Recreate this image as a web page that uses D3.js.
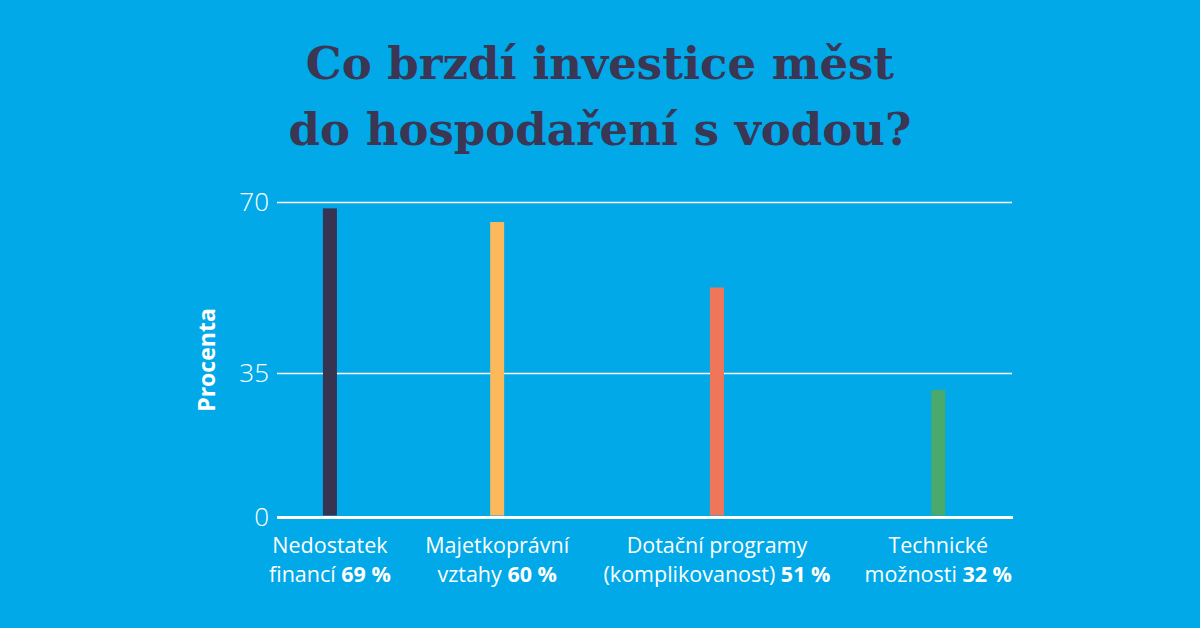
<!DOCTYPE html>
<html lang="cs">
<head>
<meta charset="utf-8">
<title>Co brzdí investice měst</title>
<script src="https://cdn.jsdelivr.net/npm/d3@7"></script>
<style>
  html, body { margin: 0; padding: 0; background: #01a9e8; }
  svg { display: block; }
  .title { font-family: "DejaVu Serif", serif; font-weight: bold; fill: #3a3654; }
  .tick-label { font-family: "Open Sans", sans-serif; font-weight: 300; fill: #fff; }
  .cat { font-family: "Open Sans", sans-serif; fill: #fff; }
</style>
</head>
<body>
<script>
// data
var titleLines = ["Co brzdí investice měst", "do hospodaření s vodou?"];
var categories = ["Nedostatek financí", "Majetkoprávní vztahy", "Dotační programy (komplikovanost)", "Technické možnosti"];
var labelLine1 = ["Nedostatek", "Majetkoprávní", "Dotační programy", "Technické"];
var labelLine2 = ["financí", "vztahy", "(komplikovanost)", "možnosti"];
var labelPct = [69, 60, 51, 32];        // percent shown in the labels
var barValues = [68.7, 65.9, 52.5, 30.9]; // bar heights as drawn
var barColors = ["#363450", "#fbb95b", "#ef7659", "#4aa96c"];
var yTicks = [0, 35, 70];
var yTitle = "Procenta";

var w = 1200, h = 628;
var left = 277, right = 1012;

var svg = d3.select("body").append("svg")
  .attr("width", w)
  .attr("height", h);

svg.append("rect").attr("width", w).attr("height", h).attr("fill", "#01a9e8");

// title
svg.selectAll("text.title")
  .data(titleLines)
  .enter()
  .append("text")
  .attr("class", "title")
  .attr("x", w / 2)
  .attr("y", function(d, i) { return 79 + i * 66; })
  .attr("text-anchor", "middle")
  .attr("font-size", 45)
  .text(function(d) { return d; });

// y scale (the picture's 35 line is not halfway, so piecewise)
var yScale = d3.scaleLinear()
  .domain([0, 35, 70])
  .range([517, 373, 202]);

// gridlines + tick labels via axis
var yAxis = d3.axisLeft(yScale)
  .tickValues(yTicks)
  .tickSize(-(right - left))
  .tickPadding(8);

var gy = svg.append("g")
  .attr("transform", "translate(" + left + ",0)")
  .call(yAxis);
gy.select(".domain").remove();
gy.selectAll(".tick line")
  .attr("stroke", "#fff")
  .attr("stroke-width", function(d) { return d === 0 ? 3 : 1.3; })
  .attr("x2", function(d) { return d === 0 ? (right - left + 1) : (right - left); });
gy.selectAll(".tick text")
  .attr("class", "tick-label")
  .attr("font-size", 26)
  .attr("x", -8)
  .attr("dy", "0.34em");

// y title
svg.append("text")
  .attr("transform", "translate(215,360) rotate(-90)")
  .attr("text-anchor", "middle")
  .attr("font-family", "'Open Sans', sans-serif")
  .attr("font-weight", "bold")
  .attr("font-size", 23)
  .attr("fill", "#fff")
  .text(yTitle);

// category labels, measured first, then packed across the axis width
var labels = svg.append("g").selectAll("g.lab")
  .data(categories)
  .enter()
  .append("g")
  .attr("class", "lab");

labels.append("text")
  .attr("class", "cat")
  .attr("font-size", 21.5)
  .attr("y", 553)
  .attr("text-anchor", "middle")
  .text(function(d, i) { return labelLine1[i]; });

var l2 = labels.append("text")
  .attr("class", "cat")
  .attr("font-size", 21.5)
  .attr("y", 582)
  .attr("text-anchor", "middle");
l2.append("tspan").text(function(d, i) { return labelLine2[i] + " "; });
l2.append("tspan").attr("font-weight", "bold").text(function(d, i) { return labelPct[i] + " %"; });

var widths = [];
labels.each(function() { widths.push(this.getBBox().width); });
var startX = 269, endX = 1012;
var gap = (endX - startX - d3.sum(widths)) / (widths.length - 1);
var centers = [], cur = startX;
widths.forEach(function(wd) { centers.push(cur + wd / 2); cur += wd + gap; });

var xScale = d3.scaleOrdinal().domain(categories).range(centers);
labels.attr("transform", function(d) { return "translate(" + xScale(d) + ",0)"; });

// bars
var barW = 14;
svg.append("g").selectAll("rect")
  .data(categories)
  .enter()
  .append("rect")
  .attr("x", function(d) { return xScale(d) - barW / 2; })
  .attr("y", function(d, i) { return yScale(barValues[i]); })
  .attr("width", barW)
  .attr("height", function(d, i) { return yScale(0) - 1.5 - yScale(barValues[i]); })
  .attr("fill", function(d, i) { return barColors[i]; });
</script>
</body>
</html>
